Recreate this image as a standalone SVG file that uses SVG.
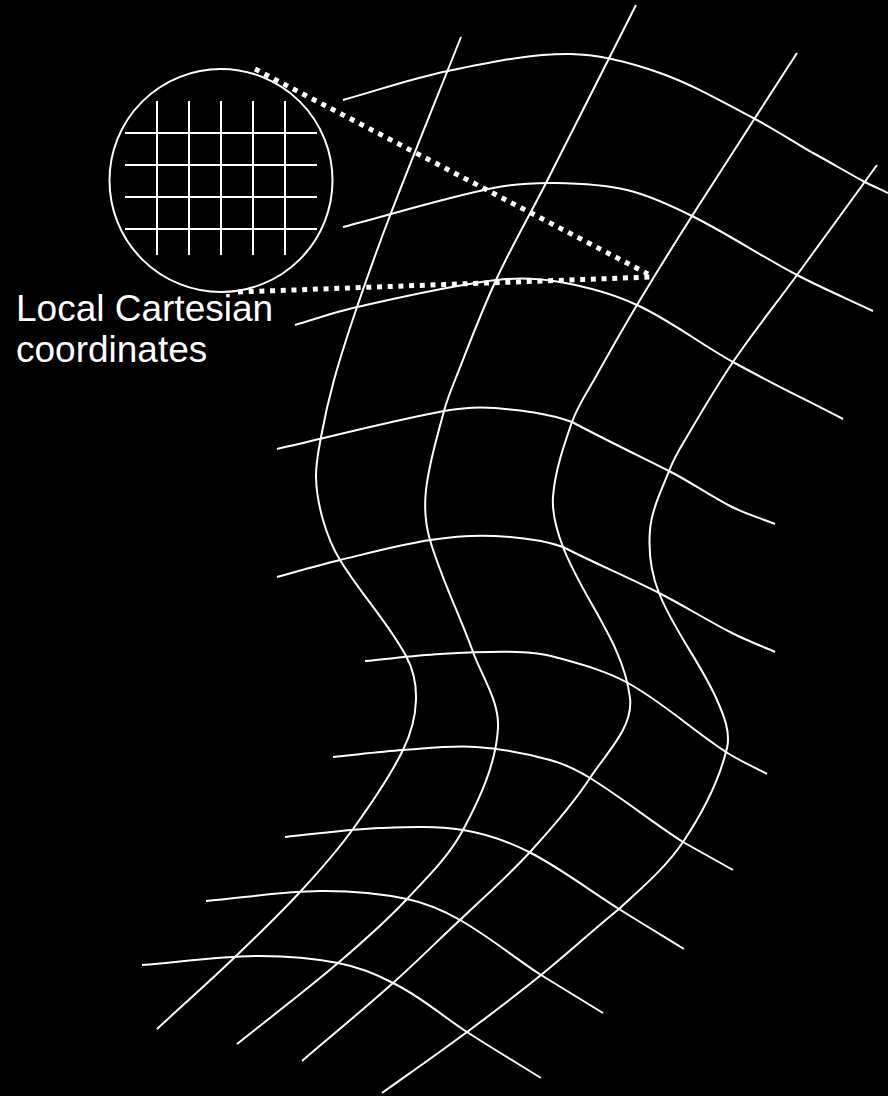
<svg xmlns="http://www.w3.org/2000/svg" width="888" height="1096" viewBox="0 0 888 1096">
<style>
.m{fill:none;stroke:#fff;stroke-width:2}
.g{fill:none;stroke:#fff;stroke-width:2}
.d{fill:none;stroke:#fff;stroke-width:5;stroke-dasharray:5 5.7}
.t{font-family:"Liberation Sans",Arial,sans-serif;font-size:37px;fill:#fff}
</style>
<rect width="888" height="1096" fill="#000"/>
<g id="mesh">
<path class="m" d="M461,37 C437.7,95.6 413.7,154.1 391,213 C379,244.1 367.8,275.5 357,307 C348.8,331.1 340.8,355.4 334,380 C328.8,398.8 324.5,417.8 321,437 C318.6,450.2 315.7,463.6 316,477 C316.3,491.5 319,506.1 323,520 C327,533.9 332.4,547.6 340,560 C360.2,593.1 387.5,621.9 406,656 C413.2,669.2 416.5,685 416,700 C415.4,717.2 410.6,734.6 403,750 C389.3,778 371.3,803.7 353,829 C336.9,851.2 318.6,871.9 300,892 C279.3,914.5 257.1,935.8 235,957 C209.4,981.5 183,1005 157,1029"/>
<path class="m" d="M636,5 C606,64.3 576.2,123.7 546,183 C529.5,215.4 511.3,246.9 496,280 C480.9,312.7 468.3,346.5 455,380 C450.9,390.2 446.8,400.4 444,411 C437.1,437.1 428.9,463.2 426,490 C424.2,506.6 425.3,524 430,540 C441.2,578.4 459.4,614.4 473,652 C482.1,677.1 499.5,701.4 498,728 C496,763.8 479.9,798.3 463,830 C449.1,856.1 427.3,877.4 407,899 C385.5,921.9 361.9,942.6 338,963 C305.1,991 270.7,1017 237,1044"/>
<path class="m" d="M797,53 C762,107.3 726.6,161.5 692,216 C673.3,245.5 654.9,275 637,305 C622.2,329.7 608,354.8 594,380 C585.9,393.8 577.2,407.1 572,422 C563.5,446.4 554.9,471.3 553,497 C551.8,514 556.9,531.1 563,547 C582.7,598.5 623.6,643.3 630,698 C633.5,727.6 606.2,753 590,778 C572.7,804.7 551.5,828.5 530,852 C508.1,876 483.5,897.5 460,920 C437.1,941.2 415.9,962.6 393,983 C363.2,1009.6 332.4,1035 302,1061"/>
<path class="m" d="M877,165 C850.4,201.6 823.7,238.4 797,275 C775.8,304.1 753.2,332.2 733,362 C715.9,387.2 700.4,413.7 685,440 C679.1,449.6 673.2,460.2 669,471 C661.5,490.3 651.7,509.4 650,530 C648.3,551.1 651.2,573.3 659,593 C673.9,630.8 700.7,662.8 717,700 C723.6,714.9 730.8,732.1 727,748 C718.9,781.7 702.3,813.3 683,842 C665.8,867.6 641.6,887.9 619,909 C592.5,930.4 567.5,953.6 541,975 C516.8,994.5 492,1013.5 467,1032 C439,1052.8 410.4,1072.7 382,1093"/>
<path class="m" d="M343,100 C378,90.3 412.4,78.2 448,71 C488.3,62.8 528.9,53.6 570,54 C600.7,54.3 631.1,62.8 660,73 C693.2,84.7 723.8,102.7 755,119 C774.8,129.4 793.6,141.8 813,153 C829.8,162 846.2,172 863,181 C871.1,185.3 879.7,189 888,193"/>
<path class="m" d="M343,227 C393,214 442.4,198.5 493,188 C513.3,183.8 534.3,182.7 555,183 C579.1,183.4 603.6,184.4 627,190 C649.6,195.5 671.2,205.6 692,216 C727.9,233.9 761.5,256.4 797,275 C821.8,288 847.7,299 873,311"/>
<path class="m" d="M295,325 C315.6,319 336,311.7 357,307 C403.1,296.7 449.1,285.8 496,280 C517.2,277.4 539,278.3 560,282 C586.4,286.7 612.7,293.7 637,305 C670.8,320.6 700.4,344 733,362 C769.1,382 806.3,400 843,419"/>
<path class="m" d="M277,449 C332.7,436.3 387.9,421.6 444,411 C460.7,407.9 478.1,406.5 495,408 C521,410.2 547.5,413.1 572,422 C604,439 636.6,454.8 669,471 C690.6,481.8 709.5,495.7 732,507 C745.8,513.9 760.7,518.3 775,524"/>
<path class="m" d="M277,577 C298,571.3 318.8,565.1 340,560 C369.8,552.8 399.7,544.7 430,540 C451.4,536.7 473.3,534.8 495,536 C518,537.2 541.3,539.5 563,547 C594.6,563.1 627.3,576.9 659,593 C683.7,605.5 707.3,620.5 732,633 C746,640.1 760.6,645.7 775,652"/>
<path class="m" d="M365,661 C390,658.7 415,655.5 440,654 C465.6,652.5 491.3,651.3 517,652 C529.8,652.3 542.7,653.6 555,657 C579.8,663.9 605.5,670.5 628,683 C662.9,702.4 692.5,730.1 726,752 C739,760.5 753.3,766.7 767,774"/>
<path class="m" d="M333,757 C356.3,754.7 379.6,751.6 403,750 C427.4,748.3 451.6,745.3 476,747 C501,748.7 525.9,753.4 550,760 C564.1,763.8 577.6,770.3 590,778 C622,797.7 651.4,821.7 683,842 C699.7,851.3 716.3,860.7 733,870"/>
<path class="m" d="M285,837 C316.7,834 348.2,829.2 380,828 C407.7,826.9 435.7,825.6 463,830 C485.9,833.7 508.3,841.5 529,852 C560.7,868 588.9,890.1 619,909 C640.5,922.5 662.4,935.7 684,949"/>
<path class="m" d="M206,901 C243.9,897.7 281.9,891.4 320,891 C349.1,890.7 378.5,893.1 407,899 C425.6,902.9 443.5,910.6 460,920 C488.4,936.1 513.7,957.2 541,975 C561.6,987.7 582.4,1000.3 603,1013"/>
<path class="m" d="M142,965 C179.7,962 217.2,956.4 255,956 C282.8,955.7 310.7,957.7 338,963 C357.1,966.7 375.8,973.8 393,983 C422,997.2 442.1,1016 467,1032 C491.4,1047.7 516.3,1062.7 541,1078"/>
</g>
<g id="magnifier">
<circle class="g" cx="221" cy="180.5" r="111.5"/>
<path class="g" d="M157,101V255M189,101V255M221,101V255M253,101V255M285,101V255M125,133H317M125,165H317M125,197H317M125,229H317"/>
</g>
<g id="connectors">
<path class="d" d="M255,69 L648,274"/>
<path class="d" d="M238,292 L652,277"/>
</g>
<g id="label">
<text class="t" x="16" y="321">Local Cartesian</text>
<text class="t" x="16" y="362">coordinates</text>
</g>
</svg>
